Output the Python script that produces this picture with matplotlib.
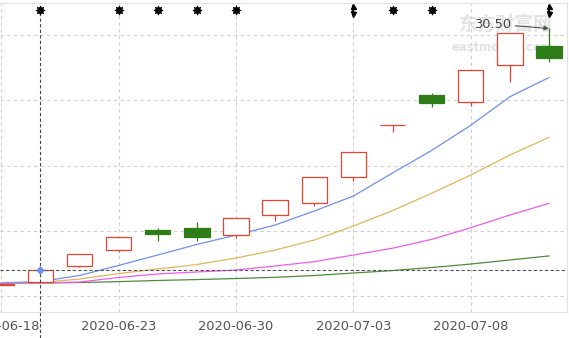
import matplotlib
matplotlib.use("Agg")
import matplotlib.pyplot as plt

# ---------------- data ----------------
dates = ['2020-06-18', '2020-06-19', '2020-06-22', '2020-06-23', '2020-06-24',
         '2020-06-29', '2020-06-30', '2020-07-01', '2020-07-02', '2020-07-03',
         '2020-07-06', '2020-07-07', '2020-07-08', '2020-07-09', '2020-07-10']

opens  = [10.86, 11.07, 12.30, 13.52, 15.06, 15.19, 14.67, 16.21, 17.15, 19.10,
          23.13, 25.43, 24.84, 27.72, 29.18]
closes = [10.94, 12.03, 13.23, 14.55, 14.77, 14.54, 15.99, 17.36, 19.12, 21.01,
          23.13, 24.81, 27.34, 30.15, 28.26]
highs  = [10.97, 12.03, 13.23, 14.55, 15.23, 15.65, 15.99, 17.36, 19.12, 21.01,
          23.13, 25.53, 27.34, 30.15, 30.50]
lows   = [10.84, 11.07, 12.22, 13.35, 14.21, 14.24, 14.42, 15.77, 16.93, 18.84,
          22.59, 24.51, 24.56, 26.38, 27.95]

ma5  = [11.00, 11.11, 11.57, 12.34, 13.14, 13.95, 14.67, 15.44, 16.51, 17.66,
        19.43, 21.15, 23.08, 25.27, 26.74]
ma10 = [11.00, 11.03, 11.30, 11.72, 12.07, 12.41, 12.91, 13.52, 14.29, 15.36,
        16.54, 17.87, 19.27, 20.80, 22.16]
ma20 = [10.96, 11.00, 11.07, 11.42, 11.69, 11.84, 11.99, 12.30, 12.63, 13.14,
        13.66, 14.34, 15.23, 16.21, 17.10]
ma60 = [10.96, 11.00, 11.03, 11.10, 11.19, 11.26, 11.34, 11.43, 11.57, 11.76,
        11.95, 12.18, 12.45, 12.76, 13.07]

tick_labels = ['2020-06-18', '2020-06-23', '2020-06-30', '2020-07-03', '2020-07-08']
star_days = ['2020-06-19', '2020-06-23', '2020-06-24', '2020-06-29', '2020-06-30',
             '2020-07-06', '2020-07-07']
arrow_days = ['2020-07-03', '2020-07-10']
cross_day = '2020-06-19'
cross_price = 12.03
max_label = '30.50'

# ---------------- style ----------------
RED = '#e8412f'
GREEN = '#2f7d17'
W, H = 569, 338
fig = plt.figure(figsize=(W / 100, H / 100), dpi=100)
ax = fig.add_axes([0, (H - 312) / H, 567 / W, 309 / H])

x = list(range(len(dates)))
ax.set_xlim(-1.2 / 39.13, (567 - 1.2) / 39.13)
ax.set_ylim((426.5 - 312) / 13.05, (426.5 - 3) / 13.05)

# grid
ax.set_yticks([10, 15, 20, 25, 30])
tick_pos = [dates.index(t) for t in tick_labels]
ax.set_xticks(tick_pos)
ax.set_xticklabels(tick_labels)
ax.grid(True, color='#cfcfcf', linestyle=(0, (3, 3)), linewidth=0.8, zorder=0)
ax.set_axisbelow(True)
ax.tick_params(axis='y', left=False, labelleft=False)
ax.tick_params(axis='x', length=0, pad=5.5, labelsize=9.4, labelcolor='#555555')
for s in ['left']:
    ax.spines[s].set_visible(False)
for s in ['top', 'right', 'bottom']:
    ax.spines[s].set_color('#e2e2e2')
    ax.spines[s].set_linewidth(0.8)

# watermark
ax.text(0.975, 0.93, '东方财富网', transform=ax.transAxes, ha='right', va='center',
        fontsize=13.5, color='#e2e2e2', family=['Noto Sans CJK SC', 'DejaVu Sans'],
        fontweight='bold', zorder=0.5)
ax.text(0.975, 0.855, 'eastmoney.com', transform=ax.transAxes, ha='right', va='center',
        fontsize=8.4, color='#e2e2e2', fontweight='bold', zorder=0.5)

# moving averages
ax.plot(x, ma60, color='#4e8c3c', lw=0.9, zorder=2)
ax.plot(x, ma20, color='#ee5bee', lw=0.9, zorder=2)
ax.plot(x, ma10, color='#e2b55a', lw=0.9, zorder=2)
ax.plot(x, ma5, color='#6f8ff2', lw=0.9, zorder=2)

# candles
bw = 0.65
for i in x:
    o, c, h, l = opens[i], closes[i], highs[i], lows[i]
    col = RED if c >= o else GREEN
    ax.vlines(i, l, h, color=col, lw=0.9, zorder=3)
    if c >= o:
        ax.bar(i, c - o, bottom=o, width=bw, facecolor='white', edgecolor=col,
               linewidth=0.9, zorder=4)
    else:
        ax.bar(i, o - c, bottom=c, width=bw, facecolor=col, edgecolor=col,
               linewidth=0.9, zorder=4)

# crosshair
ci = dates.index(cross_day)
ax.axhline(cross_price, color='#555555', lw=0.8, linestyle=(0, (3, 2)), zorder=5)
ax.axvline(ci, ymin=-26 / 309, ymax=0.97, color='#444444', lw=0.8,
           linestyle=(0, (3, 2)), zorder=5, clip_on=False)
ax.plot([ci], [cross_price], marker='D', ms=3.5, color='#6f8ff2', zorder=6)

# top markers
ytop = (426.5 - 10) / 13.05
sx = [dates.index(d) for d in star_days]
ax.scatter(sx, [ytop] * len(sx), marker=(8, 1, 0), s=42, color='black', zorder=7,
           linewidths=0.6)
ax.scatter(sx, [ytop] * len(sx), marker='o', s=14, color='black', zorder=7)
for d in arrow_days:
    i = dates.index(d)
    ax.plot([i, i], [ytop - 0.3, ytop + 0.3], color='black', lw=1.3, zorder=7)
    ax.plot([i], [ytop + 0.32], marker='^', ms=3.6, color='black', zorder=7)
    ax.plot([i], [ytop - 0.32], marker='v', ms=3.6, color='black', zorder=7)

# max annotation
imax = highs.index(max(highs))
ax.annotate(max_label, xy=(imax, highs[imax]),
            xytext=((511 - 1.2) / 39.13, (426.5 - 24) / 13.05),
            ha='right', va='center', fontsize=9.4, color='#444444',
            arrowprops=dict(arrowstyle='-|>', color='#555555', lw=0.8,
                            shrinkA=1, shrinkB=0, mutation_scale=7),
            zorder=8)

fig.savefig('out.png', dpi=100, facecolor='white')
